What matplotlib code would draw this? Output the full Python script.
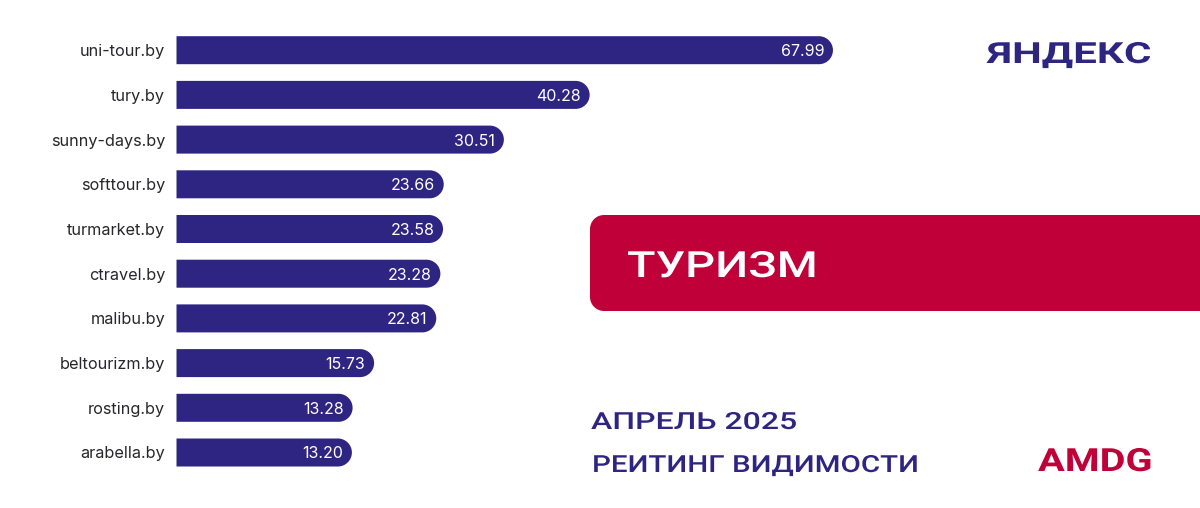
import matplotlib
matplotlib.use("Agg")
import matplotlib.pyplot as plt
import matplotlib.patheffects as pe
from matplotlib.path import Path
from matplotlib.patches import PathPatch
from matplotlib.transforms import Affine2D

sites = ["uni-tour.by", "tury.by", "sunny-days.by", "softtour.by", "turmarket.by",
         "ctravel.by", "malibu.by", "beltourizm.by", "rosting.by", "arabella.by"]
visibility = [67.99, 40.28, 30.51, 23.66, 23.58, 23.28, 22.81, 15.73, 13.28, 13.20]

NAVY = "#2e2583"
RED = "#c00038"
W, H = 1200, 508
PX_PER_UNIT = 8.78
ZERO_PX = 236.0
ROW_PX = 44.7
FIRST_ROW_PX = 50.2
BAR_LEFT = (176.5 - ZERO_PX) / PX_PER_UNIT  # bars start left of the zero point
BAR_H = 28.0 / ROW_PX


class StretchX(pe.AbstractPathEffect):
    # wide display face is not installed, so widen the glyphs
    def __init__(self, sx):
        super().__init__()
        self.sx = sx

    def draw_path(self, renderer, gc, tpath, affine, rgbFace=None):
        renderer.draw_path(gc, tpath, Affine2D().scale(self.sx, 1.0) + affine, rgbFace)


def round_right(x0, x1, yc, h, rx):
    ry = h / 2
    k = 0.5523
    verts = [(x0, yc - ry), (x1 - rx, yc - ry),
             (x1 - rx + k * rx, yc - ry), (x1, yc - k * ry), (x1, yc),
             (x1, yc + k * ry), (x1 - rx + k * rx, yc + ry), (x1 - rx, yc + ry),
             (x0, yc + ry), (x0, yc - ry)]
    codes = [Path.MOVETO, Path.LINETO, Path.CURVE4, Path.CURVE4, Path.CURVE4,
             Path.CURVE4, Path.CURVE4, Path.CURVE4, Path.LINETO, Path.CLOSEPOLY]
    return Path(verts, codes)


def round_left_box(x0, x1, y0, y1, r):
    k = 0.5523 * r
    verts = [(x1, y0), (x0 + r, y0), (x0 + r - k, y0), (x0, y0 + r - k), (x0, y0 + r),
             (x0, y1 - r), (x0, y1 - r + k), (x0 + r - k, y1), (x0 + r, y1),
             (x1, y1), (x1, y0)]
    codes = [Path.MOVETO, Path.LINETO, Path.CURVE4, Path.CURVE4, Path.CURVE4,
             Path.LINETO, Path.CURVE4, Path.CURVE4, Path.CURVE4,
             Path.LINETO, Path.CLOSEPOLY]
    return Path(verts, codes)


fig = plt.figure(figsize=(W / 100, H / 100), dpi=100, facecolor="white")

# bar chart axes fills the figure, data scale set to match the picture
ax = fig.add_axes([0, 0, 1, 1])
ax.set_xlim(-ZERO_PX / PX_PER_UNIT, (W - ZERO_PX) / PX_PER_UNIT)
ax.set_ylim((H - FIRST_ROW_PX) / ROW_PX, -FIRST_ROW_PX / ROW_PX)
ax.axis("off")

rows = list(range(len(sites)))
widths = [v - BAR_LEFT for v in visibility]
bars = ax.barh(rows, widths, left=BAR_LEFT, height=BAR_H, color=NAVY, linewidth=0)

for bar, row, val, site in zip(bars, rows, visibility, sites):
    shape = PathPatch(round_right(BAR_LEFT, val, row, BAR_H, 14.0 / PX_PER_UNIT),
                      facecolor=NAVY, edgecolor="none", transform=ax.transData)
    ax.add_patch(shape)
    bar.set_visible(False)
    ax.text(val - 8.7 / PX_PER_UNIT, row, f"{val:.2f}", color="white", ha="right",
            va="center_baseline", fontsize=11.5, family="Inter")
    ax.text((165.3 - ZERO_PX) / PX_PER_UNIT, row, site, color="#26262b", ha="right",
            va="center_baseline", fontsize=11.7, family="Inter")

# overlay in plain pixels for the banner and captions
ov = fig.add_axes([0, 0, 1, 1], facecolor="none")
ov.set_xlim(0, W)
ov.set_ylim(H, 0)
ov.axis("off")

ov.add_patch(PathPatch(round_left_box(590, 1200, 215, 311, 14), facecolor=RED, edgecolor="none"))


def wide_text(x, base, s, color, size, sx, weight="medium"):
    ov.text(x, base, s, color=color, fontsize=size, fontweight=weight, family="Roboto",
            ha="left", va="baseline", path_effects=[StretchX(sx)])


wide_text(627, 277, "ТУРИЗМ", "white", 26.0, 1.30)
wide_text(591, 429, "АПРЕЛЬ 2025", NAVY, 17.0, 1.356)
wide_text(592, 472, "РЕИТИНГ ВИДИМОСТИ", NAVY, 17.0, 1.25)
wide_text(987, 63, "ЯНДЕКС", NAVY, 21.0, 1.44, weight="bold")
wide_text(1038, 471, "AMDG", RED, 23.0, 1.245, weight="bold")

fig.savefig("out.png", dpi=100, facecolor="white")
